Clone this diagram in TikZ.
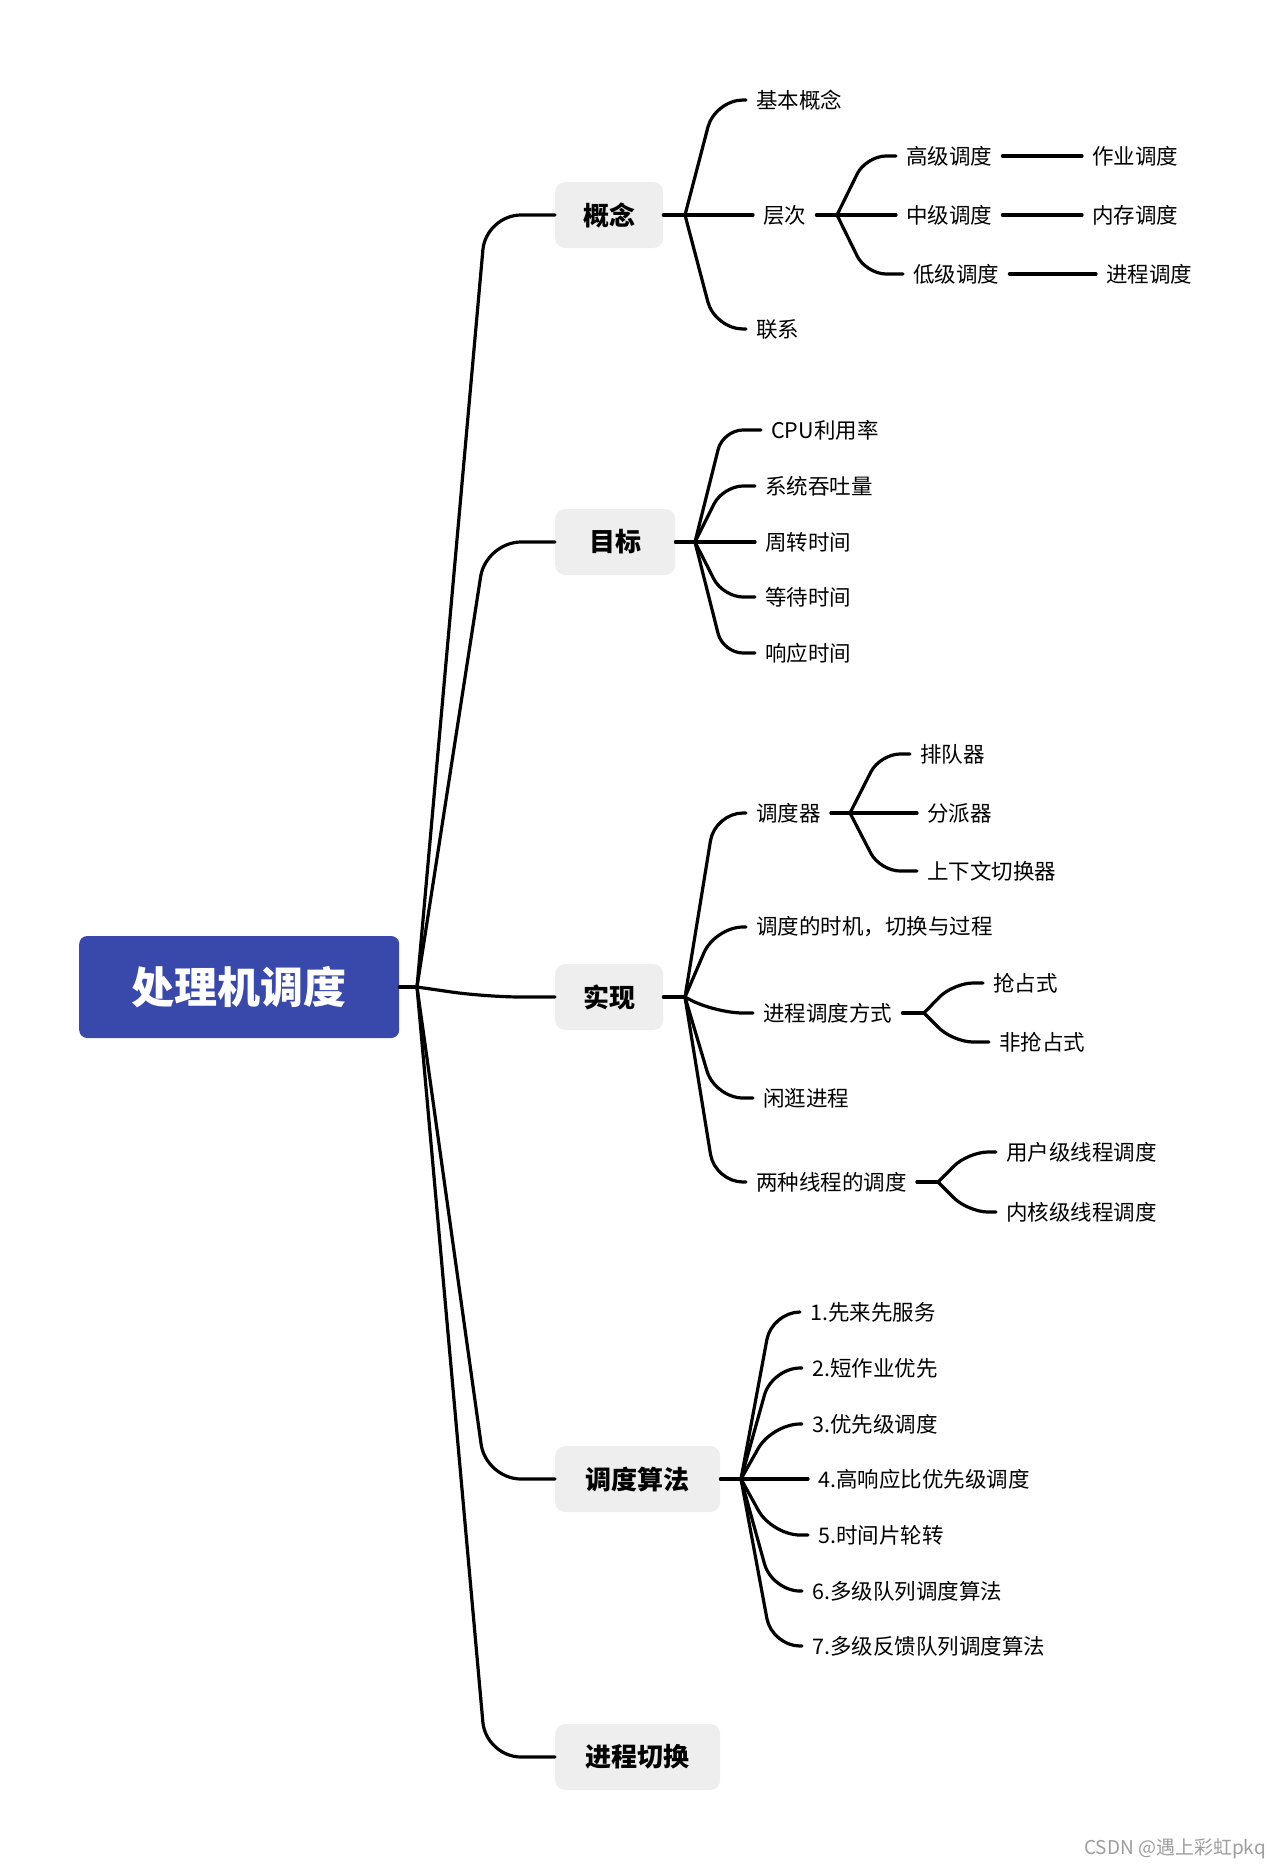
\documentclass[tikz,border=0pt]{standalone}
\usepackage{fontspec}
\setmainfont{Noto Sans CJK SC}
\definecolor{rootblue}{HTML}{3949AB}
\definecolor{boxgray}{HTML}{EEEEEE}
\definecolor{wmgray}{HTML}{9E9E9E}
\begin{document}
\begin{tikzpicture}[x=1pt,y=-1pt,
  conn/.style={line width=3.2pt, line join=round, line cap=round},
  rootbox/.style={fill=rootblue, rounded corners=8pt, minimum width=320pt, minimum height=102pt, text=white, font=\fontsize{43}{50}\selectfont\bfseries, inner sep=0pt, anchor=west},
  topic/.style={fill=boxgray, rounded corners=10pt, minimum height=66pt, inner xsep=28pt, inner ysep=0pt, font=\fontsize{26}{30}\selectfont\bfseries, anchor=west},
  leaf/.style={anchor=west, inner xsep=10pt, inner ysep=3pt, font=\fontsize{21.5}{26}\selectfont},
  rc1/.style={rounded corners=35pt},
  rc2/.style={rounded corners=28pt},
  rc3/.style={rounded corners=20pt}
]
\useasboundingbox (0,0) rectangle (1280,1869);
\fill[white] (0,0) rectangle (1280,1869);

% root and topics
\node[rootbox] (root) at (79,987) {处理机调度};
\node[topic] (c1) at (555,215) {概念};
\node[topic, minimum width=120pt] (c2) at (555,542) {目标};
\node[topic] (c3) at (555,997) {实现};
\node[topic, minimum width=165pt] (c4) at (555,1479) {调度算法};
\node[topic, minimum width=165pt] (c5) at (555,1757) {进程切换};

% hubs and corner columns
\coordinate (h0) at (417,987);  \coordinate (k0) at (486,0);
\coordinate (h1) at (685,215);  \coordinate (k1) at (715,0);
\coordinate (h2) at (695,542);  \coordinate (k2) at (723,0);
\coordinate (h3) at (685,997);  \coordinate (k3) at (715,0);
\coordinate (h4) at (741,1479); \coordinate (k4) at (772,0);
\coordinate (hC) at (837,215);  \coordinate (kC) at (866,0);
\coordinate (hD) at (850,813);  \coordinate (kD) at (880,0);
\coordinate (hP) at (924,1013); \coordinate (kP) at (953,0);
\coordinate (hT) at (938,1182); \coordinate (kT) at (968,0);

% 概念
\node[leaf] (a1) at (746,100) {基本概念};
\node[leaf] (a2) at (753,215) {层次};
\node[leaf] (a3) at (746,329) {联系};
\node[leaf] (b1) at (896,156) {高级调度};
\node[leaf] (b2) at (896,215) {中级调度};
\node[leaf] (b3) at (903,274) {低级调度};
\node[leaf] (d1) at (1082,156) {作业调度};
\node[leaf] (d2) at (1082,215) {内存调度};
\node[leaf] (d3) at (1096,274) {进程调度};

% 目标
\node[leaf] (g1) at (761,430) {CPU利用率};
\node[leaf] (g2) at (755,486) {系统吞吐量};
\node[leaf] (g3) at (755,542) {周转时间};
\node[leaf] (g4) at (755,597) {等待时间};
\node[leaf] (g5) at (755,653) {响应时间};

% 实现
\node[leaf] (s1) at (746,813) {调度器};
\node[leaf] (s2) at (746,927) {调度的时机，切换与过程};
\node[leaf] (s3) at (753,1013) {进程调度方式};
\node[leaf] (s4) at (753,1098) {闲逛进程};
\node[leaf] (s5) at (746,1182) {两种线程的调度};
\node[leaf] (q1) at (910,754) {排队器};
\node[leaf] (q2) at (917,813) {分派器};
\node[leaf] (q3) at (917,871) {上下文切换器};
\node[leaf] (p1) at (983,983) {抢占式};
\node[leaf] (p2) at (989,1042) {非抢占式};
\node[leaf] (t1) at (996,1152) {用户级线程调度};
\node[leaf] (t2) at (996,1212) {内核级线程调度};

% 调度算法
\node[leaf] (m1) at (800,1312) {1.先来先服务};
\node[leaf] (m2) at (802,1368) {2.短作业优先};
\node[leaf] (m3) at (802,1424) {3.优先级调度};
\node[leaf] (m4) at (808,1479) {4.高响应比优先级调度};
\node[leaf] (m5) at (808,1535) {5.时间片轮转};
\node[leaf] (m6) at (802,1591) {6.多级队列调度算法};
\node[leaf] (m7) at (802,1646) {7.多级反馈队列调度算法};

% watermark
\node[anchor=east, text=wmgray, font=\fontsize{19}{23}\selectfont, inner sep=0pt] (wm) at (1266,1849) {CSDN @遇上彩虹pkq};

% connectors: root level
\draw[conn] (root.east) -- (h0);
\foreach \c in {c1,c2,c3,c4,c5}
  \draw[conn, rc1] (h0) -- (k0 |- \c.west) -- (\c.west);

% 概念
\draw[conn] (c1.east) -- (h1);
\foreach \c in {a1,a2,a3}
  \draw[conn, rc2] (h1) -- (k1 |- \c.west) -- (\c.west);
\draw[conn] (a2.east) -- (hC);
\foreach \c in {b1,b2,b3}
  \draw[conn, rc3] (hC) -- (kC |- \c.west) -- (\c.west);
\draw[conn] (b1.east) -- (d1.west);
\draw[conn] (b2.east) -- (d2.west);
\draw[conn] (b3.east) -- (d3.west);

% 目标
\draw[conn] (c2.east) -- (h2);
\foreach \c in {g1,g2,g3,g4,g5}
  \draw[conn, rc3] (h2) -- (k2 |- \c.west) -- (\c.west);

% 实现
\draw[conn] (c3.east) -- (h3);
\foreach \c in {s1,s2,s3,s4,s5}
  \draw[conn, rc2] (h3) -- (k3 |- \c.west) -- (\c.west);
\draw[conn] (s1.east) -- (hD);
\foreach \c in {q1,q2,q3}
  \draw[conn, rc3] (hD) -- (kD |- \c.west) -- (\c.west);
\draw[conn] (s3.east) -- (hP);
\foreach \c in {p1,p2}
  \draw[conn, rc3] (hP) -- (kP |- \c.west) -- (\c.west);
\draw[conn] (s5.east) -- (hT);
\foreach \c in {t1,t2}
  \draw[conn, rc3] (hT) -- (kT |- \c.west) -- (\c.west);

% 调度算法
\draw[conn] (c4.east) -- (h4);
\foreach \c in {m1,m2,m3,m4,m5,m6,m7}
  \draw[conn, rc2] (h4) -- (k4 |- \c.west) -- (\c.west);
\end{tikzpicture}
\end{document}
